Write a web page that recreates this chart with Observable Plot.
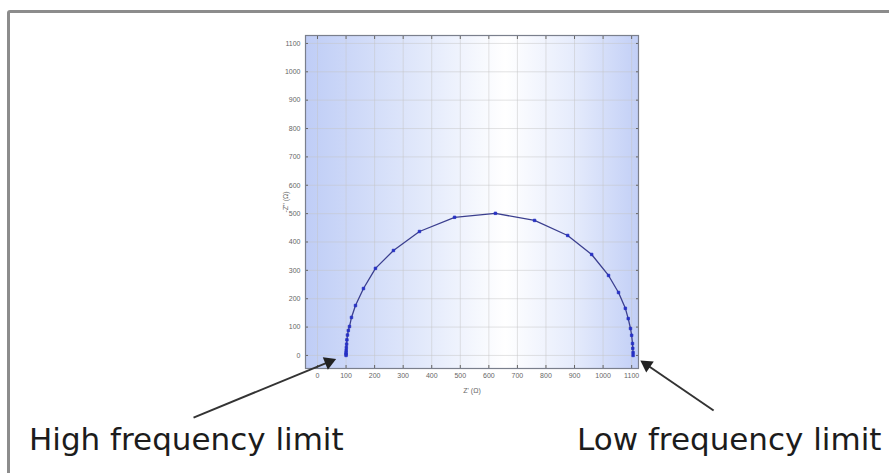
<!DOCTYPE html>
<html>
<head>
<meta charset="utf-8">
<script src="https://cdn.jsdelivr.net/npm/d3@7"></script>
<script src="https://cdn.jsdelivr.net/npm/@observablehq/plot@0.6"></script>
<style>
  html, body { margin: 0; padding: 0; background: #fff; overflow: hidden; }
  #wrap { position: relative; width: 889px; height: 473px; overflow: hidden; }
  #border { position: absolute; left: 7px; top: 10px; width: 1000px; height: 1000px;
            border: 3px solid #8c8c8c; border-radius: 3px; box-sizing: border-box; }
  #chart { position: absolute; left: 0; top: 0; }
  .note { position: absolute; font-family: "DejaVu Sans", Verdana, sans-serif; font-size: 31px;
          color: #1c1c1c; white-space: nowrap; line-height: 1; }
</style>
</head>
<body>
<div id="wrap">
  <div id="border"></div>
  <div id="chart"></div>
  <div class="note" id="hf" style="left:29px; top:424px;">High frequency limit</div>
  <div class="note" id="lf" style="left:577px; top:424px;">Low frequency limit</div>
</div>
<script>
// Nyquist data: Z' (real) and -Z'' (imaginary), ohms
const zReal = [100, 100, 100, 100.5, 101, 102, 103, 105, 108, 112, 119, 133, 161, 203, 266, 357, 480, 623, 760, 876, 960, 1019, 1054, 1078, 1088, 1096, 1100, 1103, 1104, 1105, 1105];
const zImag = [0, 5, 10, 18, 28, 40, 55, 72, 88, 102, 134, 176, 236, 307, 370, 437, 487, 501, 476, 423, 356, 282, 222, 166, 130, 95, 71, 42, 25, 10, 0];
const tickValues = [0, 100, 200, 300, 400, 500, 600, 700, 800, 900, 1000, 1100];

// annotation arrows (data space, outside the frame)
const arrowX1 = [-434, 1387];
const arrowY1 = [-219, -194];
const arrowX2 = [45, 1150];
const arrowY2 = [-21, -31];
const headX = [40, 1153];
const headY = [-23, -33];
const headAngle = [68, -56];

const points = zReal.map((x, i) => ({x, y: zImag[i]}));
const arrows = arrowX1.map((x1, i) => ({x1, y1: arrowY1[i], x2: arrowX2[i], y2: arrowY2[i]}));
const heads = headX.map((x, i) => ({x, y: headY[i], a: headAngle[i]}));

const chart = Plot.plot({
  width: 889,
  height: 473,
  marginLeft: 305,
  marginRight: 251,
  marginTop: 35,
  marginBottom: 105,
  style: {fontFamily: "Arial, 'Liberation Sans', sans-serif", fontSize: "7px", color: "#666", background: "transparent", overflow: "visible"},
  x: {domain: [-42, 1124]},
  y: {domain: [-46, 1128]},
  marks: [
    Plot.frame({fill: "url(#bgGrad)", stroke: null}),
    Plot.gridX(tickValues, {stroke: "#c4c4c4", strokeOpacity: 0.6, strokeWidth: 0.8}),
    Plot.gridY(tickValues, {stroke: "#c4c4c4", strokeOpacity: 0.6, strokeWidth: 0.8}),
    Plot.axisX(tickValues, {anchor: "bottom", tickSize: -3, tickPadding: 8, tickFormat: d => String(d),
      label: "Z' (Ω)", labelAnchor: "center", labelArrow: "none", labelOffset: 24}),
    Plot.axisX(tickValues, {anchor: "top", tickSize: -3, tickFormat: () => "", label: null}),
    Plot.axisY(tickValues, {anchor: "left", tickSize: -3, tickPadding: 8, tickFormat: d => String(d),
      label: "-Z'' (Ω)", labelAnchor: "center", labelArrow: "none", labelOffset: 22}),
    Plot.axisY(tickValues, {anchor: "right", tickSize: -3, tickFormat: () => "", label: null}),
    Plot.frame({stroke: "#7a7f8c", strokeWidth: 1.2}),
    Plot.line(points, {x: "x", y: "y", stroke: "#3b3f8f", strokeWidth: 1.3}),
    Plot.dot(points, {x: "x", y: "y", symbol: "square", r: 1.4, fill: "#2630c4", stroke: "#2630c4", strokeWidth: 0.8}),
    Plot.link(arrows, {x1: "x1", y1: "y1", x2: "x2", y2: "y2", stroke: "#333", strokeWidth: 2, clip: false}),
    Plot.dot(heads, {x: "x", y: "y", symbol: "triangle", r: 5, fill: "#222", stroke: "none", rotate: "a", clip: false})
  ]
});

const svg = d3.select(chart);
const defs = svg.insert("defs", ":first-child");
const g = defs.append("linearGradient").attr("id", "bgGrad").attr("x1", "0").attr("x2", "1").attr("y1", "0").attr("y2", "0");
g.append("stop").attr("offset", "0").attr("stop-color", "#bfcdf6");
g.append("stop").attr("offset", "0.35").attr("stop-color", "#e2e9fb");
g.append("stop").attr("offset", "0.6").attr("stop-color", "#ffffff");
g.append("stop").attr("offset", "0.8").attr("stop-color", "#e6ecfc");
g.append("stop").attr("offset", "1").attr("stop-color", "#c2cff6");

document.getElementById("chart").appendChild(chart);
</script>
</body>
</html>
